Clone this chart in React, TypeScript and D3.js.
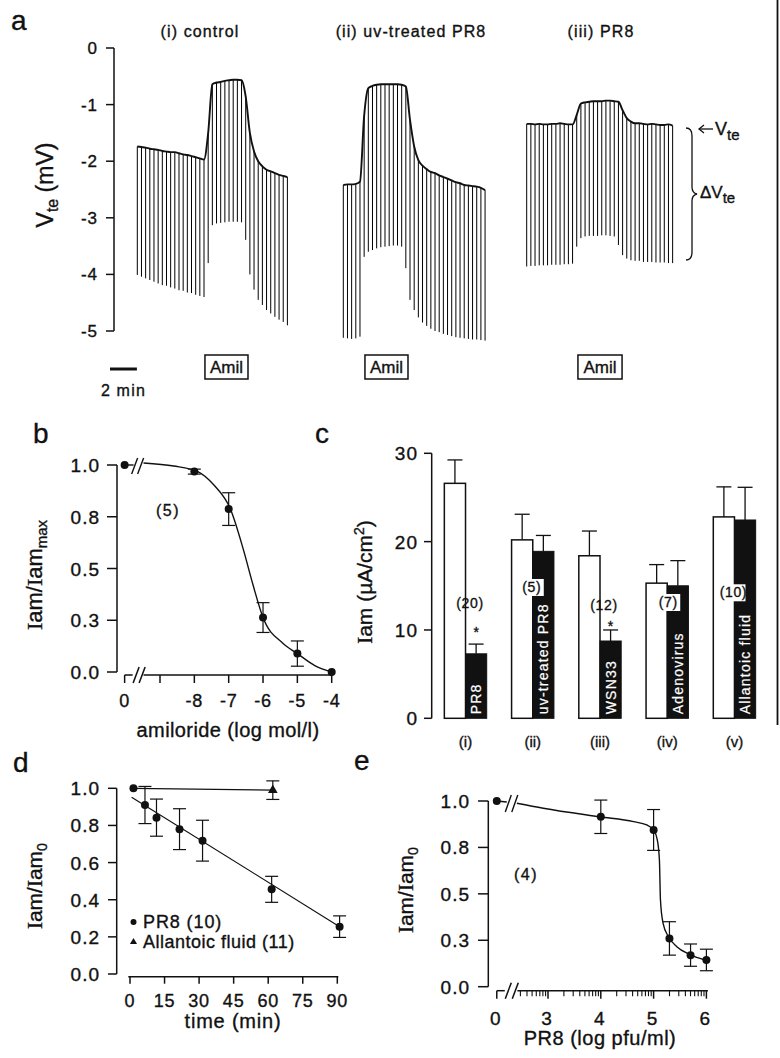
import React from "react";
import * as d3 from "d3";

const FONT = "'Liberation Sans', Arial, Helvetica, sans-serif";
const SERIF = "'Liberation Serif', 'Times New Roman', serif";
const INK = "#111";

// ---------------- Panel a : Vte traces (value per pulse, mV) ----------------
const PULSE_MIN = 0.31; // minutes between current pulses
const ctrlTop = [
  -1.74, -1.75, -1.76, -1.78, -1.79, -1.8, -1.82, -1.83, -1.84, -1.84, -1.86, -1.88, -1.89, -1.91, -1.93, -1.95, -1.97,
  -1.5,
  -0.64, -0.61, -0.6, -0.58, -0.57, -0.56, -0.56, -0.57,
  -0.86,
  -1.5, -1.83, -2.0, -2.09, -2.15, -2.18, -2.21, -2.24, -2.26, -2.28,
];
const ctrlBottom = [
  -4.01, -4.04, -4.07, -4.1, -4.13, -4.16, -4.19, -4.2, -4.23, -4.25, -4.28, -4.29, -4.32, -4.33, -4.36, -4.38, -4.4,
  -3.8,
  -3.13, -3.1, -3.09, -3.08, -3.07, -3.07, -3.07, -3.08,
  -3.39,
  -4.0, -4.27, -4.45, -4.54, -4.63, -4.69, -4.75, -4.8, -4.84, -4.9,
];
const uvTop = [
  -2.42, -2.41, -2.41, -2.4, -2.36,
  -1.2,
  -0.71, -0.67, -0.65, -0.64, -0.64, -0.64, -0.64, -0.64, -0.65,
  -0.68,
  -1.27, -1.74, -1.98, -2.08, -2.14, -2.19, -2.21, -2.25, -2.28, -2.31, -2.34, -2.37, -2.39, -2.42, -2.43, -2.44, -2.45, -2.47, -2.51,
];
const uvBottom = [
  -5.12, -5.13, -5.14, -5.13, -5.1,
  -3.69,
  -3.6, -3.57, -3.54, -3.52, -3.51, -3.5, -3.49, -3.49, -3.51,
  -3.89,
  -4.45, -4.63, -4.76, -4.85, -4.91, -4.96, -5.0, -5.02, -5.05, -5.07, -5.09, -5.11, -5.12, -5.13, -5.14, -5.15, -5.15, -5.16, -5.17,
];
const pr8Top = [
  -1.34, -1.34, -1.35, -1.34, -1.35, -1.35, -1.34, -1.34, -1.33, -1.34, -1.35, -1.35,
  -1.18,
  -0.98,
  -0.96, -0.95, -0.94, -0.94, -0.94, -0.93, -0.93, -0.94, -0.95,
  -1.1, -1.24, -1.3, -1.33, -1.33, -1.34, -1.35, -1.34, -1.35, -1.36, -1.36, -1.35, -1.37,
];
const pr8Bottom = [
  -3.86, -3.85, -3.85, -3.84, -3.84, -3.84, -3.83, -3.83, -3.83, -3.82, -3.82, -3.81,
  -3.51,
  -3.36,
  -3.33, -3.32, -3.32, -3.32, -3.31, -3.31, -3.32, -3.33,
  -3.48,
  -3.66, -3.72, -3.75, -3.76, -3.76, -3.78, -3.78, -3.78, -3.79, -3.79, -3.79, -3.8, -3.8,
];
const traceTitles = ["(i) control", "(ii) uv-treated PR8", "(iii) PR8"];
const amilOnMin = [5.03, 1.61, 3.81];
const amilOffMin = [8.23, 4.81, 7.09];
const vteTicks = [0, -1, -2, -3, -4, -5];

// ---------------- Panel b : amiloride dose response ----------------
const bConc = [0, -8, -7, -6, -5, -4]; // 0 = no amiloride
const bMean = [1.0, 0.968, 0.787, 0.263, 0.089, 0.0];
const bErr = [0, 0.012, 0.079, 0.072, 0.061, 0];
const bFitX = [-9.48, -8.6, -7.9, -7.43, -6.95, -6.57, -6.29, -6.0, -5.43, -5.0, -4.48, -4.0];
const bFitY = [1.01, 0.995, 0.968, 0.903, 0.787, 0.59, 0.42, 0.263, 0.14, 0.089, 0.03, 0.0];
const bXTicks = [-9, -8, -7, -6, -5, -4];
const bXLabelVals = [0, -8, -7, -6, -5, -4];
const ratioTicks = [0, 0.25, 0.5, 0.75, 1];
const ratioLabels = ["0.0", "0.3", "0.5", "0.8", "1.0"];

// ---------------- Panel c : amiloride-sensitive current ----------------
const cGroups = ["(i)", "(ii)", "(iii)", "(iv)", "(v)"];
const cAgents = ["PR8", "uv-treated PR8", "WSN33", "Adenovirus", "Allantoic fluid"];
const cControl = [26.6, 20.2, 18.4, 15.3, 22.8];
const cControlErr = [2.65, 2.9, 2.8, 2.1, 3.4];
const cTreated = [7.3, 18.9, 8.75, 15.0, 22.45];
const cTreatedErr = [1.1, 1.8, 1.25, 2.85, 3.7];
const cN = ["(20)", "(5)", "(12)", "(7)", "(10)"];
const cSig = [true, false, true, false, false];
const cTicks = [0, 10, 20, 30];

// ---------------- Panel d : time course ----------------
const dTime = [1.5, 6.5, 11.5, 21.5, 31.5, 61.5, 91];
const dPR8 = [1.0, 0.91, 0.842, 0.78, 0.718, 0.456, 0.255];
const dPR8Err = [0, 0.1, 0.1, 0.11, 0.11, 0.07, 0.058];
const dAllTime = [1.5, 62];
const dAll = [1.0, 0.99];
const dAllErr = [0, 0.05];
const dFitTime = [0.7, 91];
const dFit = [0.952, 0.255];
const dXTicks = [0, 15, 30, 45, 60, 75, 90];
const dYTicks = [0, 0.2, 0.4, 0.6, 0.8, 1.0];

// ---------------- Panel e : virus dose response ----------------
const eLogPfu = [0, 4, 5, 5.3, 5.7, 6]; // 0 = no virus
const eMean = [1.0, 0.915, 0.844, 0.26, 0.17, 0.144];
const eErr = [0, 0.09, 0.11, 0.09, 0.06, 0.058];
const eFitX = [2.41, 2.91, 3.98, 4.62, 4.87, 5.0, 5.07, 5.11, 5.13, 5.18, 5.28, 5.44, 5.68, 5.97];
const eFitY = [0.988, 0.961, 0.915, 0.889, 0.871, 0.844, 0.79, 0.682, 0.467, 0.341, 0.27, 0.215, 0.174, 0.144];
const eMajor = [3, 4, 5, 6];
const eXLabelVals = [0, 3, 4, 5, 6];

function VErr({ x, y1, y2, w = 13 }: { x: number; y1: number; y2: number; w?: number }) {
  return (
    <g stroke={INK} strokeWidth={1.2}>
      <line x1={x} x2={x} y1={y1} y2={y2} />
      <line x1={x - w / 2} x2={x + w / 2} y1={y1} y2={y1} />
      <line x1={x - w / 2} x2={x + w / 2} y1={y2} y2={y2} />
    </g>
  );
}

function VErrTop({ x, yTop, yErr, w = 15 }: { x: number; yTop: number; yErr: number; w?: number }) {
  return (
    <g stroke={INK} strokeWidth={1.3}>
      <line x1={x} x2={x} y1={yTop} y2={yErr} />
      <line x1={x - w / 2} x2={x + w / 2} y1={yErr} y2={yErr} />
    </g>
  );
}

function RatioLabel({ x, y, sub, size = 21 }: { x: number; y: number; sub: string; size?: number }) {
  return (
    <text transform={`translate(${x},${y}) rotate(-90)`} textAnchor="middle" fontSize={size}>
      <tspan fontFamily={SERIF}>I</tspan>
      <tspan>am/</tspan>
      <tspan fontFamily={SERIF}>I</tspan>
      <tspan>am</tspan>
      <tspan fontSize={size * 0.68} dy={5}>{sub}</tspan>
    </text>
  );
}

export default function App() {
  // ---------- a ----------
  const yA = d3.scaleLinear().domain([0, -5]).range([48, 331]);
  const tA = d3.scaleLinear().domain([0, 1]).range([0, 13.45]);
  const traceX0 = [137.3, 343.3, 526.7];
  const titleX = [200, 411, 601];
  const traces = [
    [ctrlTop, ctrlBottom],
    [uvTop, uvBottom],
    [pr8Top, pr8Bottom],
  ];

  // ---------- b ----------
  const yB = d3.scaleLinear().domain([0, 1]).range([672, 465]);
  const xBlin = d3.scaleLinear().domain([-9, -4]).range([160, 331.7]);
  const B_CTRL = -10.03;
  const xB = (v: number) => xBlin(v === 0 ? B_CTRL : v);
  const bAxisY = 675;
  const bLine = d3
    .line<number>()
    .x((v) => xBlin(v))
    .y((_, i) => yB(bFitY[i]))
    .curve(d3.curveMonotoneX);

  // ---------- c ----------
  const yC = d3.scaleLinear().domain([0, 30]).range([718.3, 453.3]);
  const xC = d3.scaleBand<string>().domain(cGroups).range([431.9, 768.1]).paddingInner(0.37).paddingOuter(0.185);
  const half = xC.bandwidth() / 2;
  const nLabelVal = [12.5, 14.3, 12.3, 12.6, 13.7];
  const nLabelDx = [4.5, -1, 4, 1, -1];
  const sigLabelVal = [9.2, 9.9, 9.9, 0, 0];
  const nBg = [false, true, false, true, true];

  // ---------- d ----------
  const yD = d3.scaleLinear().domain([0, 1]).range([974, 788.3]);
  const xD = d3.scaleLinear().domain([0, 90]).range([130, 337.3]);
  const dAxisY = 976.7;

  // ---------- e ----------
  const yE = d3.scaleLinear().domain([0, 1]).range([986.7, 801]);
  const xElin = d3.scaleLinear().domain([3, 6]).range([548, 706.4]);
  const E_CTRL = 2.03;
  const xE = (v: number) => xElin(v === 0 ? E_CTRL : v);
  const eAxisY = 990.7;
  const eLine = d3
    .line<number>()
    .x((v) => xElin(v))
    .y((_, i) => yE(eFitY[i]))
    .curve(d3.curveMonotoneX);
  const eMinor: number[] = [];
  for (let k = 2; k <= 5; k++) {
    for (let m = 2; m <= 9; m++) {
      const v = k + Math.log10(m);
      if (v >= 2.45 && v <= 6) eMinor.push(v);
    }
  }

  return (
    <svg
      width={780}
      height={1058}
      viewBox="0 0 780 1058"
      style={{ position: "absolute", left: 0, top: 0, background: "#fff" }}
      fontFamily={FONT}
      fill={INK}
    >
      <style>{`text{stroke:#111;stroke-width:0.35px;} text.inv{stroke:#fff;stroke-width:0.2px;}`}</style>
      <rect x={0} y={0} width={780} height={1058} fill="#fff" />
      {/* scan border line */}
      <line x1={777.5} x2={777.5} y1={0} y2={725} stroke={INK} strokeWidth={1.8} />

      {/* ================= a ================= */}
      <text x={11} y={30} fontSize={28}>a</text>
      <line x1={114} x2={114} y1={yA(0)} y2={yA(-5)} stroke={INK} strokeWidth={1.5} />
      {vteTicks.map((t) => (
        <g key={t}>
          <line x1={106} x2={114} y1={yA(t)} y2={yA(t)} stroke={INK} strokeWidth={1.5} />
          <text x={98} y={yA(t) + 6} textAnchor="end" fontSize={17} letterSpacing={1}>
            {String(t)}
          </text>
        </g>
      ))}
      <text transform="translate(53,185) rotate(-90)" textAnchor="middle" fontSize={23}>
        <tspan>V</tspan>
        <tspan fontSize={16} dy={5}>te</tspan>
        <tspan dy={-5}> (mV)</tspan>
      </text>
      {traces.map(([top, bot], ti) => {
        const px = (i: number) => traceX0[ti] + tA(i * PULSE_MIN);
        const line = d3
          .line<number>()
          .x((_, i) => px(i))
          .y((v) => yA(v))
          .curve(d3.curveMonotoneX);
        const bx0 = traceX0[ti] + tA(amilOnMin[ti]);
        const bx1 = traceX0[ti] + tA(amilOffMin[ti]);
        return (
          <g key={ti}>
            {top.map((v, i) => (
              <line key={i} x1={px(i)} x2={px(i)} y1={yA(v)} y2={yA(bot[i])} stroke="#000" strokeWidth={1} />
            ))}
            <path d={line(top) || ""} fill="none" stroke={INK} strokeWidth={1.9} />
            <text x={titleX[ti]} y={37} textAnchor="middle" fontSize={16} letterSpacing={1.1}>
              {traceTitles[ti]}
            </text>
            <rect x={bx0} y={355} width={bx1 - bx0} height={24} fill="#fff" stroke={INK} strokeWidth={1.5} />
            <text x={(bx0 + bx1) / 2} y={373} textAnchor="middle" fontSize={17}>
              Amil
            </text>
          </g>
        );
      })}
      {/* time scale bar */}
      <line x1={110} x2={110 + tA(2)} y1={369} y2={369} stroke={INK} strokeWidth={3} />
      <text x={110 + tA(1)} y={396} textAnchor="middle" fontSize={16} letterSpacing={1.2}>
        2 min
      </text>
      {/* Vte annotation */}
      <g stroke={INK} strokeWidth={1.3} fill="none">
        <line x1={699} x2={713} y1={129} y2={129} />
        <polyline points="704,125 699,129 704,133" />
        <path d="M686,128 Q692,128 692,136 L692,187 Q692,193 697,194 Q692,195 692,201 L692,252 Q692,260 686,260" />
      </g>
      <text x={715} y={135} fontSize={18}>
        V<tspan fontSize={15} dy={5}>te</tspan>
      </text>
      <text x={700} y={198} fontSize={17}>
        ΔV<tspan fontSize={15} dy={5}>te</tspan>
      </text>

      {/* ================= b ================= */}
      <text x={33} y={443} fontSize={28}>b</text>
      <line x1={117} x2={117} y1={yB(1)} y2={yB(0)} stroke={INK} strokeWidth={1.5} />
      {ratioTicks.map((t, i) => (
        <g key={t}>
          <line x1={107} x2={117} y1={yB(t)} y2={yB(t)} stroke={INK} strokeWidth={1.5} />
          <text x={100} y={yB(t) + 7} textAnchor="end" fontSize={19} letterSpacing={1}>
            {ratioLabels[i]}
          </text>
        </g>
      ))}
      {/* x axis with break */}
      <g stroke={INK} strokeWidth={1.5}>
        <line x1={xB(0)} x2={xB(0) + 8} y1={bAxisY} y2={bAxisY} />
        <line x1={xB(0)} x2={xB(0)} y1={bAxisY} y2={bAxisY + 8} />
        <line x1={xB(0) + 8.5} x2={xB(0) + 14.5} y1={bAxisY + 8} y2={bAxisY - 8} />
        <line x1={xB(0) + 14.5} x2={xB(0) + 20.5} y1={bAxisY + 8} y2={bAxisY - 8} />
        <line x1={xBlin(-9.48)} x2={xBlin(-4)} y1={bAxisY} y2={bAxisY} />
        {bXTicks.map((t) => (
          <line key={t} x1={xB(t)} x2={xB(t)} y1={bAxisY} y2={bAxisY + 8} />
        ))}
      </g>
      {bXLabelVals.map((t) => (
        <text key={t} x={xB(t)} y={707} textAnchor="middle" fontSize={18} letterSpacing={0.8}>
          {String(t)}
        </text>
      ))}
      <text x={228} y={737} textAnchor="middle" fontSize={20} letterSpacing={0.4}>
        amiloride (log mol/l)
      </text>
      <RatioLabel x={42} y={575} sub="max" size={22} />
      {/* curve with break */}
      <g stroke={INK} strokeWidth={1.4} fill="none">
        <line x1={xB(0)} x2={xB(0) + 9} y1={yB(bMean[0])} y2={yB(bMean[0])} />
        <line x1={xB(0) + 7} x2={xB(0) + 13} y1={yB(1) + 9} y2={yB(1) - 7} />
        <line x1={xB(0) + 13} x2={xB(0) + 19} y1={yB(1) + 9} y2={yB(1) - 7} />
        <path d={bLine(bFitX) || ""} />
      </g>
      {bConc.map((c, i) => (
        <g key={i}>
          {bErr[i] > 0 && <VErr x={xB(c)} y1={yB(bMean[i] + bErr[i])} y2={yB(bMean[i] - bErr[i])} />}
          <circle cx={xB(c)} cy={yB(bMean[i])} r={4} fill={INK} />
        </g>
      ))}
      <text x={168} y={516} textAnchor="middle" fontSize={16} letterSpacing={1.5}>
        (5)
      </text>

      {/* ================= c ================= */}
      <text x={315} y={443} fontSize={28}>c</text>
      <line x1={431.7} x2={431.7} y1={yC(30)} y2={yC(0)} stroke={INK} strokeWidth={1.5} />
      {cTicks.map((t) => (
        <g key={t}>
          <line x1={424} x2={431.7} y1={yC(t)} y2={yC(t)} stroke={INK} strokeWidth={1.5} />
          <text x={418} y={yC(t) + 7} textAnchor="end" fontSize={19} letterSpacing={1}>
            {String(t)}
          </text>
        </g>
      ))}
      <text transform="translate(372,582) rotate(-90)" textAnchor="middle" fontSize={21}>
        <tspan fontFamily={SERIF}>I</tspan>
        <tspan>am (µA/cm</tspan>
        <tspan fontSize={14} dy={-8}>2</tspan>
        <tspan dy={8}>)</tspan>
      </text>
      {cGroups.map((g, i) => {
        const x0 = xC(g) as number;
        const cxW = x0 + half / 2;
        const cxB = x0 + half + half / 2;
        return (
          <g key={g}>
            <VErrTop x={cxW} yTop={yC(cControl[i])} yErr={yC(cControl[i] + cControlErr[i])} />
            <VErrTop x={cxB} yTop={yC(cTreated[i])} yErr={yC(cTreated[i] + cTreatedErr[i])} />
            <rect x={x0} y={yC(cControl[i])} width={half} height={yC(0) - yC(cControl[i])} fill="#fff" stroke={INK} strokeWidth={1.5} />
            <rect x={x0 + half} y={yC(cTreated[i])} width={half} height={yC(0) - yC(cTreated[i])} fill={INK} stroke={INK} strokeWidth={1} />
            <text
              className="inv"
              transform={`translate(${cxB + 5},${yC(0) - 4}) rotate(-90)`}
              fill="#fff"
              fontSize={14}
              letterSpacing={1.2}
            >
              {cAgents[i]}
            </text>
            {nBg[i] && (
              <rect x={x0 + half + nLabelDx[i] - 12} y={yC(nLabelVal[i]) - 13} width={24} height={17} fill="#fff" />
            )}
            <text x={x0 + half + nLabelDx[i]} y={yC(nLabelVal[i])} textAnchor="middle" fontSize={14} letterSpacing={0.6}>
              {cN[i]}
            </text>
            {cSig[i] && (
              <text x={cxB} y={yC(sigLabelVal[i])} textAnchor="middle" fontSize={14}>
                *
              </text>
            )}
            <text x={x0 + half} y={747} textAnchor="middle" fontSize={15}>
              {g}
            </text>
          </g>
        );
      })}

      {/* ================= d ================= */}
      <text x={13} y={772} fontSize={28}>d</text>
      <line x1={116.7} x2={116.7} y1={yD(1)} y2={yD(0)} stroke={INK} strokeWidth={1.5} />
      {dYTicks.map((t) => (
        <g key={t}>
          <line x1={108} x2={116.7} y1={yD(t)} y2={yD(t)} stroke={INK} strokeWidth={1.5} />
          <text x={100} y={yD(t) + 7} textAnchor="end" fontSize={19} letterSpacing={1}>
            {t.toFixed(1)}
          </text>
        </g>
      ))}
      <line x1={128.3} x2={338.3} y1={dAxisY} y2={dAxisY} stroke={INK} strokeWidth={1.5} />
      {dXTicks.map((t) => (
        <g key={t}>
          <line x1={xD(t)} x2={xD(t)} y1={dAxisY} y2={dAxisY + 7} stroke={INK} strokeWidth={1.5} />
          <text x={xD(t)} y={1007} textAnchor="middle" fontSize={18} letterSpacing={0.8}>
            {String(t)}
          </text>
        </g>
      ))}
      <text x={233} y={1028} textAnchor="middle" fontSize={20} letterSpacing={0.8}>
        time  (min)
      </text>
      <RatioLabel x={42} y={886} sub="0" size={21} />
      <line x1={xD(dAllTime[0])} x2={xD(dAllTime[1])} y1={yD(dAll[0])} y2={yD(dAll[1])} stroke={INK} strokeWidth={1.2} />
      <line x1={xD(dFitTime[0])} x2={xD(dFitTime[1])} y1={yD(dFit[0])} y2={yD(dFit[1])} stroke={INK} strokeWidth={1.2} />
      {dTime.map((t, i) => (
        <g key={i}>
          {dPR8Err[i] > 0 && <VErr x={xD(t)} y1={yD(dPR8[i] + dPR8Err[i])} y2={yD(dPR8[i] - dPR8Err[i])} />}
          <circle cx={xD(t)} cy={yD(dPR8[i])} r={4} fill={INK} />
        </g>
      ))}
      {dAllTime.map((t, i) =>
        i === 0 ? null : (
          <g key={i}>
            <VErr x={xD(t)} y1={yD(dAll[i] + dAllErr[i])} y2={yD(dAll[i] - dAllErr[i])} />
            <path
              d={d3.symbol().type(d3.symbolTriangle).size(40)() || ""}
              transform={`translate(${xD(t)},${yD(dAll[i])})`}
              fill={INK}
            />
          </g>
        )
      )}
      <circle cx={133.5} cy={922} r={3} fill={INK} />
      <text x={143} y={928} fontSize={18} letterSpacing={0.9}>
        PR8 (10)
      </text>
      <path d={d3.symbol().type(d3.symbolTriangle).size(22)() || ""} transform="translate(133.5,942)" fill={INK} />
      <text x={143} y={948} fontSize={18} letterSpacing={0.5}>
        Allantoic fluid (11)
      </text>

      {/* ================= e ================= */}
      <text x={354} y={770} fontSize={28}>e</text>
      <line x1={488.3} x2={488.3} y1={yE(1)} y2={yE(0)} stroke={INK} strokeWidth={1.5} />
      {ratioTicks.map((t, i) => (
        <g key={t}>
          <line x1={478} x2={488.3} y1={yE(t)} y2={yE(t)} stroke={INK} strokeWidth={1.5} />
          <text x={470} y={yE(t) + 7} textAnchor="end" fontSize={19} letterSpacing={1}>
            {ratioLabels[i]}
          </text>
        </g>
      ))}
      <g stroke={INK} strokeWidth={1.5}>
        <line x1={xE(0)} x2={xE(0) + 8} y1={eAxisY} y2={eAxisY} />
        <line x1={xE(0)} x2={xE(0)} y1={eAxisY} y2={eAxisY + 8} />
        <line x1={xE(0) + 8.5} x2={xE(0) + 14.5} y1={eAxisY + 8} y2={eAxisY - 8} />
        <line x1={xE(0) + 15.5} x2={xE(0) + 21.5} y1={eAxisY + 8} y2={eAxisY - 8} />
        <line x1={xElin(2.42)} x2={xElin(6) + 1.5} y1={eAxisY} y2={eAxisY} />
        {eMajor.map((t) => (
          <line key={t} x1={xElin(t)} x2={xElin(t)} y1={eAxisY} y2={eAxisY + 8} />
        ))}
      </g>
      <g stroke={INK} strokeWidth={1.1}>
        {eMinor.map((t) => (
          <line key={t} x1={xElin(t)} x2={xElin(t)} y1={eAxisY} y2={eAxisY + 5.5} />
        ))}
      </g>
      {eXLabelVals.map((t) => (
        <text key={t} x={xE(t) - 1.5} y={1025} textAnchor="middle" fontSize={19}>
          {String(t)}
        </text>
      ))}
      <text x={600} y={1045} textAnchor="middle" fontSize={20} letterSpacing={0.5}>
        PR8  (log pfu/ml)
      </text>
      <RatioLabel x={413} y={890} sub="0" size={21} />
      <g stroke={INK} strokeWidth={1.4} fill="none">
        <line x1={xE(0)} x2={xE(0) + 10} y1={yE(eMean[0])} y2={yE(eMean[0]) + 1} />
        <line x1={xE(0) + 8.5} x2={xE(0) + 14.5} y1={yE(1) + 11} y2={yE(1) - 6} />
        <line x1={xE(0) + 15} x2={xE(0) + 21} y1={yE(1) + 11} y2={yE(1) - 6} />
        <path d={eLine(eFitX) || ""} />
      </g>
      {eLogPfu.map((c, i) => (
        <g key={i}>
          {eErr[i] > 0 && <VErr x={xE(c)} y1={yE(eMean[i] + eErr[i])} y2={yE(eMean[i] - eErr[i])} />}
          <circle cx={xE(c)} cy={yE(eMean[i])} r={4} fill={INK} />
        </g>
      ))}
      <text x={526} y={880} textAnchor="middle" fontSize={16} letterSpacing={1.5}>
        (4)
      </text>
    </svg>
  );
}
